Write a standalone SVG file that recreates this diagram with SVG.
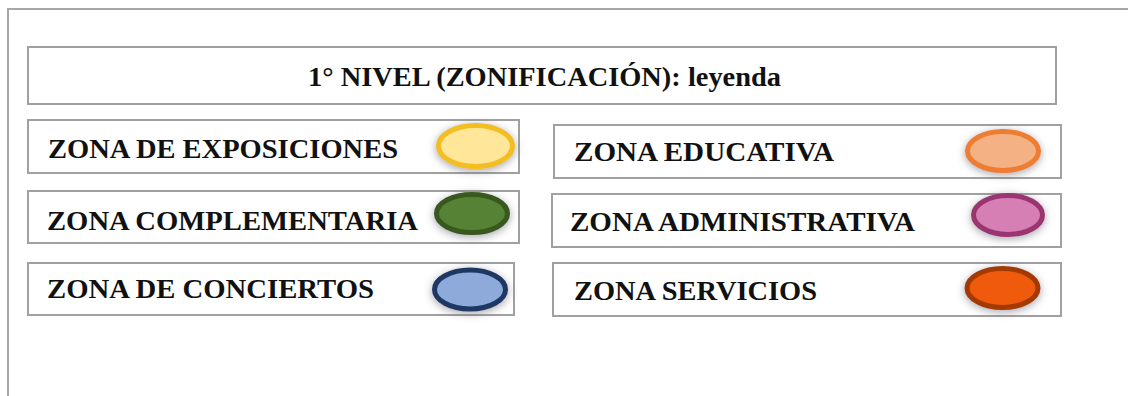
<svg xmlns="http://www.w3.org/2000/svg" width="1128" height="396" viewBox="0 0 1128 396">
<style>
  .frame{fill:none;stroke:#a6a6a6;stroke-width:2}
  .box{fill:#ffffff;stroke:#a0a0a0;stroke-width:2}
  .lbl{font-family:"Liberation Serif","Times New Roman",serif;font-weight:bold;font-size:28px;fill:#111111}
  .ttl{font-size:27px}
  .dot{stroke-width:5;filter:url(#sh)}
</style>
<defs>
  <filter id="sh" x="-40%" y="-60%" width="180%" height="220%">
    <feGaussianBlur in="SourceAlpha" stdDeviation="4.5" result="b"/>
    <feOffset in="b" dx="0" dy="2" result="o"/>
    <feComponentTransfer in="o" result="s"><feFuncA type="linear" slope="0.55"/></feComponentTransfer>
    <feFlood flood-color="#5a5a6a"/>
    <feComposite in2="s" operator="in" result="c"/>
    <feMerge><feMergeNode in="c"/><feMergeNode in="SourceGraphic"/></feMerge>
  </filter>
</defs>
<rect width="1128" height="396" fill="#ffffff"/>
<path class="frame" d="M8 396 V9 H1128"/>

<g id="title">
  <rect class="box" x="28" y="47" width="1028" height="57"/>
  <text class="lbl ttl" x="308" y="86" textLength="473" lengthAdjust="spacingAndGlyphs">1° NIVEL (ZONIFICACIÓN): leyenda</text>
</g>

<g id="zona-exposiciones">
  <rect class="box" x="28" y="120" width="491" height="53"/>
  <text class="lbl" x="48" y="158" textLength="350" lengthAdjust="spacingAndGlyphs">ZONA DE EXPOSICIONES</text>
  <ellipse class="dot" cx="475.5" cy="146" rx="37" ry="20.5" fill="#FFE699" stroke="#F2BE22"/>
</g>

<g id="zona-complementaria">
  <rect class="box" x="28" y="191" width="491" height="52"/>
  <text class="lbl" x="47" y="230" textLength="371" lengthAdjust="spacingAndGlyphs">ZONA COMPLEMENTARIA</text>
  <ellipse class="dot" cx="472" cy="213.5" rx="35.5" ry="19" fill="#548235" stroke="#38591F"/>
</g>

<g id="zona-conciertos">
  <rect class="box" x="28" y="263" width="486" height="52"/>
  <text class="lbl" x="47" y="298" textLength="327" lengthAdjust="spacingAndGlyphs">ZONA DE CONCIERTOS</text>
  <ellipse class="dot" cx="470" cy="289.5" rx="35.5" ry="19.5" fill="#8EAADB" stroke="#1F3864"/>
</g>

<g id="zona-educativa">
  <rect class="box" x="554" y="125" width="507" height="53"/>
  <text class="lbl" x="574" y="161" textLength="260" lengthAdjust="spacingAndGlyphs">ZONA EDUCATIVA</text>
  <ellipse class="dot" cx="1003" cy="151" rx="35.5" ry="19.5" fill="#F4B183" stroke="#ED7D31"/>
</g>

<g id="zona-administrativa">
  <rect class="box" x="552" y="194" width="509" height="53"/>
  <text class="lbl" x="570" y="231" textLength="345" lengthAdjust="spacingAndGlyphs">ZONA ADMINISTRATIVA</text>
  <ellipse class="dot" cx="1008" cy="215" rx="34.5" ry="19.5" fill="#D67FB5" stroke="#9B3672"/>
</g>

<g id="zona-servicios">
  <rect class="box" x="553" y="263" width="508" height="53"/>
  <text class="lbl" x="574" y="300" textLength="243" lengthAdjust="spacingAndGlyphs">ZONA SERVICIOS</text>
  <ellipse class="dot" cx="1002.5" cy="288" rx="35.5" ry="19.5" fill="#F05A0A" stroke="#A33A06"/>
</g>

<g id="connectors"></g>
</svg>
